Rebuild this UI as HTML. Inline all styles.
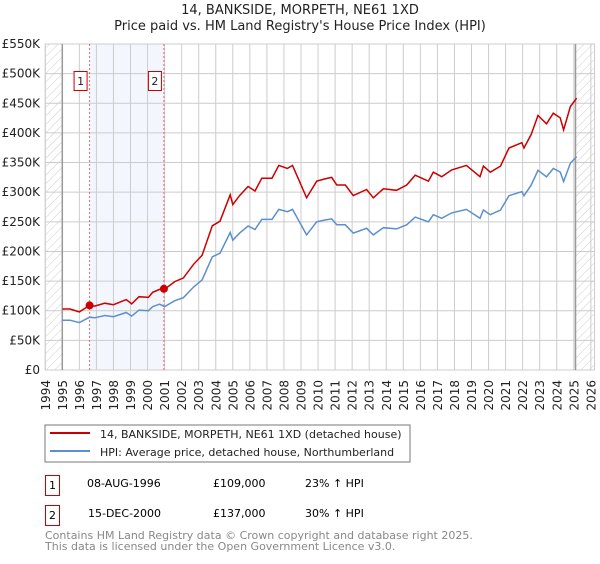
<!DOCTYPE html>
<html><head><meta charset="utf-8"><style>
body{margin:0;background:#fff;font-family:"DejaVu Sans","Liberation Sans",sans-serif;}
svg text{font-family:"DejaVu Sans","Liberation Sans",sans-serif;}
</style></head><body>
<svg id="chart" width="600" height="560" viewBox="0 0 600 560">
<defs><pattern id="hatch" width="6" height="6" patternUnits="userSpaceOnUse" patternTransform="rotate(45)"><line x1="0" y1="0" x2="0" y2="6" stroke="#ccc" stroke-width="1"/></pattern></defs>
<text x="300" y="14" text-anchor="middle" font-size="13" fill="#222">14, BANKSIDE, MORPETH, NE61 1XD</text>
<text x="300" y="30" text-anchor="middle" font-size="13" fill="#222">Price paid vs. HM Land Registry's House Price Index (HPI)</text>
<g id="plot"></g>
<rect x="45" y="425" width="365" height="37" fill="#fff" stroke="#777"/>
<line x1="50" y1="433" x2="90" y2="433" stroke="#cc0000" stroke-width="2"/>
<text x="100" y="438" font-size="11" fill="#222">14, BANKSIDE, MORPETH, NE61 1XD (detached house)</text>
<line x1="50" y1="451" x2="90" y2="451" stroke="#5b8fd0" stroke-width="2"/>
<text x="100" y="456" font-size="11" fill="#222">HPI: Average price, detached house, Northumberland</text>
<rect x="45.5" y="475.5" width="14" height="20" fill="#fff" stroke="#cc0000"/>
<text x="52.5" y="489" text-anchor="middle" font-size="11">1</text>
<text x="87" y="487" font-size="11">08-AUG-1996</text>
<text x="213" y="487" font-size="11">£109,000</text>
<text x="305" y="487" font-size="11">23% ↑ HPI</text>
<rect x="45.5" y="505.5" width="14" height="20" fill="#fff" stroke="#cc0000"/>
<text x="52.5" y="519" text-anchor="middle" font-size="11">2</text>
<text x="88" y="517" font-size="11">15-DEC-2000</text>
<text x="213" y="517" font-size="11">£137,000</text>
<text x="305" y="517" font-size="11">30% ↑ HPI</text>
<text x="45" y="539" font-size="11" fill="#888">Contains HM Land Registry data © Crown copyright and database right 2025.</text>
<text x="45" y="550" font-size="11" fill="#888">This data is licensed under the Open Government Licence v3.0.</text>
</svg>
<script>
const hpiYears=[1995.0,1995.45,1996.0,1996.6,1996.9,1997.5,1998.0,1998.75,1999.07,1999.5,2000.05,2000.3,2000.7,2001.0,2001.6,2002.1,2002.7,2003.2,2003.8,2004.25,2004.85,2005.0,2005.4,2005.9,2006.3,2006.7,2007.3,2007.7,2008.2,2008.5,2008.85,2009.33,2009.92,2010.4,2010.8,2011.1,2011.6,2012.07,2012.85,2013.24,2013.83,2014.6,2015.2,2015.7,2016.47,2016.76,2017.25,2017.84,2018.7,2019.5,2019.7,2020.1,2020.7,2021.2,2021.95,2022.08,2022.5,2022.9,2023.4,2023.8,2024.2,2024.4,2024.8,2025.17];
const hpiValues=[84,84,80,89,88,92,90,97,91,101,100,107,111,107,117,122,140,152,191,197,232,219,231,243,237,254,254,271,267,271,253,228,250,253,255,245,245,231,239,228,240,238,245,258,250,262,256,265,271,256,270,262,270,294,301,294,312,337,326,340,334,318,349,360];
const saleYears=[1996.6,2000.96];
const salePrices=[109,137];
const saleLabels=["1","2"];
const yTicks=[0,50,100,150,200,250,300,350,400,450,500,550];
const yTickLabels=["£0","£50K","£100K","£150K","£200K","£250K","£300K","£350K","£400K","£450K","£500K","£550K"];
const xTicks=[1994,1995,1996,1997,1998,1999,2000,2001,2002,2003,2004,2005,2006,2007,2008,2009,2010,2011,2012,2013,2014,2015,2016,2017,2018,2019,2020,2021,2022,2023,2024,2025,2026];
const X0=45.25,X1=594.5,Y0=370,Y1=44;
const xs=y=>62.3+(y-1995)*17.05;
const ys=v=>Y0-v*(Y0-Y1)/550;
const NS="http://www.w3.org/2000/svg";
const g=document.getElementById('plot');
function mk(t,a){const e=document.createElementNS(NS,t);for(const k in a)e.setAttribute(k,a[k]);g.appendChild(e);return e;}
function hpiAt(y){for(let i=0;i<hpiYears.length-1;i++){if(y>=hpiYears[i]&&y<=hpiYears[i+1]){const t=(y-hpiYears[i])/(hpiYears[i+1]-hpiYears[i]);return hpiValues[i]+t*(hpiValues[i+1]-hpiValues[i]);}}return hpiValues[hpiValues.length-1];}
let bg=mk('rect',{x:X0,y:Y1,width:X1-X0,height:Y0-Y1,fill:'#fff',stroke:'#ccc'});


let h1=mk('rect',{x:X0,y:Y1,width:xs(1995)-X0,height:Y0-Y1,fill:'url(#hatch)'});


let h2=mk('rect',{x:xs(2025.1),y:Y1,width:X1-xs(2025.1),height:Y0-Y1,fill:'url(#hatch)'});


let sh=mk('rect',{x:xs(saleYears[0]),y:Y1,width:xs(saleYears[1])-xs(saleYears[0]),height:Y0-Y1,fill:'#eef3fc',opacity:0.7});


yTicks.forEach((v,i)=>{
 const l=mk('line',{x1:X0,x2:X1,y1:ys(v),y2:ys(v),stroke:'#ccc'});
 
 
 const t=mk('text',{x:40,y:ys(v)+4,'text-anchor':'end','font-size':12,fill:'#222'});
 t.textContent=yTickLabels[i];
 
 
});
xTicks.forEach(y=>{
 const l=mk('line',{x1:xs(y),x2:xs(y),y1:Y1,y2:Y0,stroke:'#ccc'});
 
 
 const t=mk('text',{x:0,y:0,'text-anchor':'end','font-size':12,fill:'#222',transform:`translate(${xs(y)+4.5},380) rotate(-90)`});
 t.textContent=y;
 
 
});
[xs(1995),xs(2025.1)].forEach(x=>{const l=mk('line',{x1:x,x2:x,y1:Y1,y2:Y0,stroke:'#999','stroke-width':1.5});
 
 });
saleYears.forEach((y,i)=>{
 const l=mk('line',{x1:xs(y),x2:xs(y),y1:Y1,y2:Y0,stroke:'#e66','stroke-dasharray':'2,2'});
 
 
});
const hp=hpiYears.map((y,i)=>`${xs(y).toFixed(1)},${ys(hpiValues[i]).toFixed(1)}`).join(' ');
const hl=mk('polyline',{points:hp,fill:'none',stroke:'#5b8fd0','stroke-width':1.5});


const r1=salePrices[0]/hpiAt(saleYears[0]),r2=salePrices[1]/hpiAt(saleYears[1]);
const rp=[];
hpiYears.forEach((y,i)=>{if(y<saleYears[1])rp.push([y,hpiValues[i]*r1]);});
rp.push([saleYears[1],salePrices[1]]);
hpiYears.forEach((y,i)=>{if(y>saleYears[1])rp.push([y,hpiValues[i]*r2]);});
const rl=mk('polyline',{points:rp.map(p=>`${xs(p[0]).toFixed(1)},${ys(p[1]).toFixed(1)}`).join(' '),fill:'none',stroke:'#cc0000','stroke-width':1.5});


saleYears.forEach((y,i)=>{
 const c=mk('circle',{cx:xs(y),cy:ys(salePrices[i]),r:4,fill:'#cc0000'});
 
 
 const b=mk('rect',{x:xs(y)-15.5,y:71.5,width:13,height:19,fill:'#fff',stroke:'#cc0000'});
 
 
 const t=mk('text',{x:xs(y)-9,y:85,'text-anchor':'middle','font-size':11,fill:'#222'});
 t.textContent=saleLabels[i];
 
 
});
</script>
</body></html>
